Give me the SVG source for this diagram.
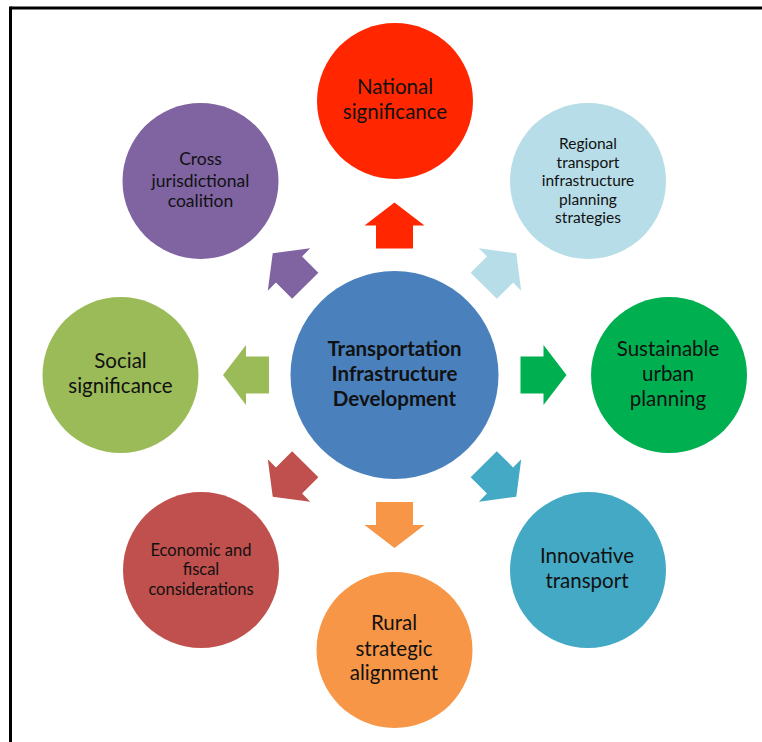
<svg xmlns="http://www.w3.org/2000/svg" width="762" height="742" viewBox="0 0 762 742">
<style>
text{font-family:Lato,"Liberation Sans",sans-serif;fill:#111;text-anchor:middle}
.t20{font-size:20.5px}
.t17{font-size:17.5px}
.t15{font-size:15.5px}
.t16{font-size:16.5px}
.b{font-weight:bold;font-size:20.5px}
</style>
<defs>
<path id="arr" d="M-23,-18.5 H0 V-30 L23,0 L0,30 V18.5 H-23 Z"/>
</defs>
<rect width="762" height="742" fill="#fff"/>
<g id="frame" stroke="#000" stroke-width="3" fill="none">
<line x1="10.5" y1="8" x2="762" y2="8"/>
<line x1="10.5" y1="6.5" x2="10.5" y2="742"/>
</g>
<g id="connectors">
<use href="#arr" fill="#00B050" transform="translate(543.5,375)"/>
<use href="#arr" fill="#43A9C4" transform="translate(500,480.5) rotate(45)"/>
<use href="#arr" fill="#F79646" transform="translate(394.5,525) rotate(90)"/>
<use href="#arr" fill="#C0504D" transform="translate(289,480.5) rotate(135)"/>
<use href="#arr" fill="#9BBB59" transform="translate(246,375) rotate(180)"/>
<use href="#arr" fill="#8064A2" transform="translate(289,269.5) rotate(225)"/>
<use href="#arr" fill="#FF2600" transform="translate(394.5,225.5) rotate(270)"/>
<use href="#arr" fill="#B7DDE8" transform="translate(500,269.5) rotate(315)"/>
</g>
<g id="center">
<circle cx="394.5" cy="375" r="104" fill="#4A81BD"/>
<text class="b" x="394.5" y="356">Transportation</text>
<text class="b" x="394.5" y="381">Infrastructure</text>
<text class="b" x="394.5" y="406">Development</text>
</g>
<g id="national">
<circle cx="395" cy="101" r="78" fill="#FF2600"/>
<text class="t20" x="395" y="94">National</text>
<text class="t20" x="395" y="119">significance</text>
</g>
<g id="regional">
<circle cx="588" cy="181" r="78" fill="#B7DDE8"/>
<text class="t15" x="588" y="149">Regional</text>
<text class="t15" x="588" y="167.5">transport</text>
<text class="t15" x="588" y="186">infrastructure</text>
<text class="t15" x="588" y="204.5">planning</text>
<text class="t15" x="588" y="223">strategies</text>
</g>
<g id="sustainable">
<circle cx="669" cy="375" r="78" fill="#00B050"/>
<text class="t20" x="668" y="356">Sustainable</text>
<text class="t20" x="668" y="381">urban</text>
<text class="t20" x="668" y="406">planning</text>
</g>
<g id="innovative">
<circle cx="588" cy="570" r="78" fill="#43A9C4"/>
<text class="t20" x="587" y="563">Innovative</text>
<text class="t20" x="587" y="588">transport</text>
</g>
<g id="rural">
<circle cx="394.5" cy="650" r="78" fill="#F79646"/>
<text class="t20" x="394" y="630">Rural</text>
<text class="t20" x="394" y="656">strategic</text>
<text class="t20" x="394" y="680">alignment</text>
</g>
<g id="economic">
<circle cx="201" cy="570" r="78" fill="#C0504D"/>
<text class="t16" x="201" y="555.5">Economic and</text>
<text class="t16" x="201" y="575">fiscal</text>
<text class="t16" x="201" y="594.5">considerations</text>
</g>
<g id="social">
<circle cx="120.5" cy="375" r="78" fill="#9BBB59"/>
<text class="t20" x="120.5" y="368">Social</text>
<text class="t20" x="120.5" y="393">significance</text>
</g>
<g id="cross">
<circle cx="200.5" cy="181" r="78" fill="#8064A2"/>
<text class="t17" x="200.5" y="164.5">Cross</text>
<text class="t17" x="200.5" y="186.5">jurisdictional</text>
<text class="t17" x="200.5" y="207">coalition</text>
</g>
</svg>
